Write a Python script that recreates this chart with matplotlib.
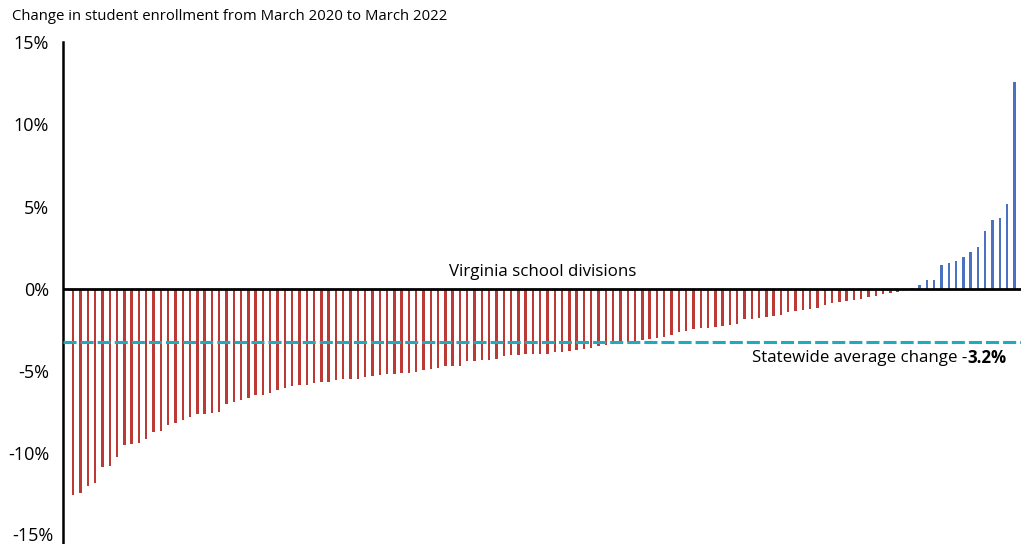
import matplotlib
matplotlib.use("Agg")
import matplotlib.pyplot as plt
import numpy as np

# Enrollment change (%) for each Virginia school division, sorted ascending
changes = [
    -12.52, -12.38, -11.95, -11.79, -10.85, -10.77, -10.23, -9.47, -9.45, -9.39,
    -9.13, -8.72, -8.66, -8.29, -8.15, -7.99,
    -7.79, -7.62, -7.60, -7.54, -7.48, -7.01, -6.87, -6.77, -6.63, -6.46,
    -6.42, -6.30, -6.14, -6.05, -5.93, -5.87,
    -5.81, -5.71, -5.67, -5.65, -5.53, -5.49, -5.46, -5.45, -5.37, -5.30,
    -5.24, -5.20, -5.18, -5.14, -5.10, -5.02, -4.94,
    -4.84, -4.78, -4.71, -4.70, -4.68, -4.39, -4.38, -4.33, -4.32, -4.27,
    -4.09, -4.02, -3.99, -3.98, -3.97, -3.96,
    -3.95, -3.86, -3.84, -3.76, -3.72, -3.68, -3.62, -3.46, -3.43, -3.28,
    -3.27, -3.25, -3.17, -3.11, -3.05, -2.99, -2.91,
    -2.80, -2.64, -2.54, -2.46, -2.40, -2.36, -2.30, -2.24, -2.18, -2.12,
    -1.85, -1.81, -1.75, -1.69, -1.65, -1.59,
    -1.42, -1.32, -1.31, -1.24, -1.14, -0.96, -0.85, -0.79, -0.73, -0.67,
    -0.59, -0.47, -0.41, -0.32, -0.23, -0.16,
    0.0, 0.05, 0.23, 0.53, 0.53, 1.45, 1.59, 1.69, 1.95, 2.26,
    2.56, 3.52, 4.19, 4.33, 5.15, 12.56,
]
statewide_avg = -3.2
y_ticks = [15, 10, 5, 0, -5, -10, -15]
y_tick_labels = ["15%", "10%", "5%", "0%", "-5%", "-10%", "-15%"]

title_text = "Change in student enrollment from March 2020 to March 2022"
axis_text = "Virginia school divisions"
avg_text = "Statewide average change -"
avg_value_text = "3.2%"

RED = "#BC3A35"
BLUE = "#4A72C0"
TEAL = "#22A9BF"

plt.rcParams["font.family"] = ["Open Sans", "DejaVu Sans"]

W, H = 1021, 544
fig = plt.figure(figsize=(W / 100, H / 100), dpi=100)
ax = fig.add_axes([63 / W, 0.0, 1 - 63 / W, 1 - 42 / H])

vals = np.array(changes)
x = np.arange(len(vals))
colors = [BLUE if v > 0 else RED for v in vals]
ax.bar(x, vals, width=0.33, color=colors, linewidth=0, zorder=2)

# Statewide average reference line
lw = 2.2
ax.axhline(statewide_avg, color=TEAL, linewidth=lw,
           linestyle=(0, (9.4 / lw, 2.9 / lw)), zorder=3)
# Zero baseline
ax.axhline(0, color="black", linewidth=2.0, zorder=4)

ax.set_xlim(-1.41, 129.9)
ax.set_ylim(-15.5, 15)
ax.set_yticks(y_ticks)
# The lowest label sits near the figure edge, so it is drawn separately below
ax.set_yticklabels(y_tick_labels[:-1] + [""], fontsize=13)
ax.tick_params(axis="y", length=0, pad=10)
ax.set_xticks([])
ax.annotate(y_tick_labels[-1], xy=(0, y_ticks[-1]),
            xycoords=ax.get_yaxis_transform(),
            xytext=(-10 * 0.72, -3.6), textcoords="offset points",
            ha="right", va="baseline", fontsize=13)

for side in ("top", "right", "bottom"):
    ax.spines[side].set_visible(False)
ax.spines["left"].set_linewidth(1.8)
ax.spines["left"].set_color("black")

ax.text(64.4, 0.55, axis_text, ha="center", va="bottom", fontsize=12.2, zorder=5)
ax.text(122.5, -4.2, avg_text, ha="right", va="center", fontsize=12.2, zorder=5)
ax.text(122.5, -4.2, avg_value_text, ha="left", va="center", fontsize=12.2,
        fontweight="bold", zorder=5)

fig.text(12 / W, 1 - 17 / H, title_text, ha="left", va="center", fontsize=10.7)

fig.savefig("out.png", dpi=100, facecolor="white")
